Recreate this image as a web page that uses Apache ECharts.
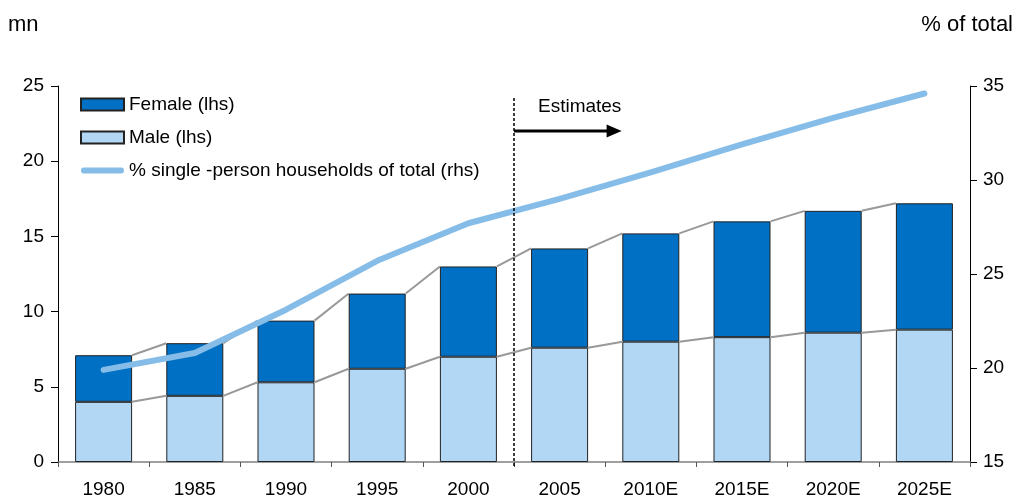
<!DOCTYPE html>
<html>
<head>
<meta charset="utf-8">
<script src="https://cdn.jsdelivr.net/npm/echarts@6/dist/echarts.min.js"></script>
<style>
  html, body { margin: 0; padding: 0; background: #fff; }
  #chart { width: 1018px; height: 499px; }
</style>
</head>
<body>
<div id="chart"></div>
<script>
// Single-person households, millions (lhs) and share of all households (rhs)
const years = ['1980', '1985', '1990', '1995', '2000', '2005', '2010E', '2015E', '2020E', '2025E'];
const male = [4.0, 4.4, 5.3, 6.2, 7.0, 7.6, 8.0, 8.3, 8.6, 8.8];
const female = [3.1, 3.5, 4.1, 5.0, 6.0, 6.6, 7.2, 7.7, 8.1, 8.4];
const sharePct = [19.9, 20.8, 23.1, 25.7, 27.7, 29.0, 30.4, 31.9, 33.3, 34.6];
const leftTicks = [0, 25, 5];
const rightTicks = [15, 35, 5];

const FONT = 'Liberation Sans, Arial, sans-serif';
const BAR_FRAC = 0.625;

const totals = male.map((m, i) => +(m + female[i]).toFixed(2));

// Connector segments between neighbouring bar tops (male top and stack top)
const connectorData = years.slice(0, -1).map((_, i) => [i, male[i], totals[i], male[i + 1], totals[i + 1]]);

const chart = echarts.init(document.getElementById('chart'), null, { renderer: 'canvas' });

const option = {
  animation: false,
  textStyle: { fontFamily: FONT },
  grid: { left: 58, right: 48, top: 86, bottom: 35, containLabel: false },
  legend: {
    orient: 'vertical',
    left: 75,
    top: 90,
    itemWidth: 43,
    itemHeight: 12,
    itemGap: 14,
    textStyle: { fontSize: 19, color: '#000', fontFamily: FONT },
    data: [
      { name: 'Female (lhs)', icon: 'rect' },
      { name: 'Male (lhs)', icon: 'rect' },
      { name: '% single -person households of total (rhs)',
        icon: 'path://M3,0H41A3,3,0,0,1,41,6H3A3,3,0,0,1,3,0Z' }
    ]
  },
  xAxis: {
    type: 'category',
    data: years,
    axisLine: { lineStyle: { color: '#808080', width: 1.5 } },
    axisTick: { show: true, length: 5, lineStyle: { color: '#555' } },
    axisLabel: { color: '#000', fontSize: 19, margin: 18, fontFamily: FONT }
  },
  yAxis: [
    {
      type: 'value',
      min: leftTicks[0], max: leftTicks[1], interval: leftTicks[2],
      name: 'mn',
      nameLocation: 'end',
      nameGap: 0,
      nameTextStyle: { fontSize: 22, color: '#000', align: 'left', padding: [0, 0, 50, -50], fontFamily: FONT },
      axisLine: { show: true, lineStyle: { color: '#000', width: 1 } },
      axisTick: { show: true, inside: false, length: 7, lineStyle: { color: '#000' } },
      axisLabel: { color: '#000', fontSize: 19, margin: 14, fontFamily: FONT },
      splitLine: { show: false }
    },
    {
      type: 'value',
      min: rightTicks[0], max: rightTicks[1], interval: rightTicks[2],
      name: '% of total',
      nameLocation: 'end',
      nameGap: 0,
      nameTextStyle: { fontSize: 22, color: '#000', align: 'right', padding: [0, -43, 50, 0], fontFamily: FONT },
      position: 'right',
      axisLine: { show: true, lineStyle: { color: '#000', width: 1 } },
      axisTick: { show: true, inside: false, length: 7, lineStyle: { color: '#000' } },
      axisLabel: { color: '#000', fontSize: 19, margin: 13, fontFamily: FONT },
      splitLine: { show: false }
    }
  ],
  series: [
    {
      name: 'Male (lhs)',
      type: 'bar',
      stack: 'hh',
      data: male,
      barWidth: (BAR_FRAC * 100) + '%',
      itemStyle: { color: '#B1D7F5', borderColor: '#222', borderWidth: 1 },
      z: 3
    },
    {
      name: 'Female (lhs)',
      type: 'bar',
      stack: 'hh',
      data: female,
      barWidth: (BAR_FRAC * 100) + '%',
      itemStyle: { color: '#0070C4', borderColor: '#222', borderWidth: 1 },
      z: 3
    },
    {
      name: 'connectors',
      type: 'custom',
      data: connectorData,
      silent: true,
      z: 2,
      renderItem: function (params, api) {
        const i = api.value(0);
        const band = api.size([1, 0])[0];
        const half = band * BAR_FRAC / 2;
        const a = api.coord([i, api.value(1)]);
        const b = api.coord([i + 1, api.value(3)]);
        const c = api.coord([i, api.value(2)]);
        const d = api.coord([i + 1, api.value(4)]);
        const style = { stroke: '#999', lineWidth: 2, fill: null };
        return {
          type: 'group',
          children: [
            { type: 'line', shape: { x1: a[0] + half, y1: a[1], x2: b[0] - half, y2: b[1] }, style: style },
            { type: 'line', shape: { x1: c[0] + half, y1: c[1], x2: d[0] - half, y2: d[1] }, style: style }
          ]
        };
      }
    },
    {
      name: '% single -person households of total (rhs)',
      type: 'line',
      yAxisIndex: 1,
      data: sharePct,
      symbol: 'none',
      lineStyle: { color: '#85BDE8', width: 6, cap: 'round', join: 'round' },
      itemStyle: { color: '#85BDE8' },
      z: 5
    }
  ]
};

chart.setOption(option);

// Forecast divider and label, placed on the axis scales
const px2000 = chart.convertToPixel({ xAxisIndex: 0 }, '2000');
const px2005 = chart.convertToPixel({ xAxisIndex: 0 }, '2005');
const band = px2005 - px2000;
const xDiv = (px2000 + px2005) / 2;
const yBase = chart.convertToPixel({ yAxisIndex: 0 }, 0);
const yTop = chart.convertToPixel({ yAxisIndex: 0 }, 24.2);
const yArrow = chart.convertToPixel({ yAxisIndex: 0 }, 22.0);
const yText = chart.convertToPixel({ yAxisIndex: 0 }, 23.6);
const xArrowEnd = xDiv + band * 1.18;

chart.setOption({
  graphic: [
    {
      type: 'line',
      shape: { x1: xDiv, y1: yTop, x2: xDiv, y2: yBase + 4 },
      style: { stroke: '#000', lineWidth: 1.5, lineDash: [3, 2] },
      z: 10
    },
    {
      type: 'line',
      shape: { x1: xDiv, y1: yArrow, x2: xArrowEnd - 12, y2: yArrow },
      style: { stroke: '#000', lineWidth: 3 },
      z: 10
    },
    {
      type: 'polygon',
      shape: { points: [[xArrowEnd - 15, yArrow - 6.5], [xArrowEnd, yArrow], [xArrowEnd - 15, yArrow + 6.5]] },
      style: { fill: '#000' },
      z: 10
    },
    {
      type: 'text',
      x: xDiv + band * 0.72,
      y: yText,
      style: { text: 'Estimates', fill: '#000', font: '19px ' + FONT, textAlign: 'center', textVerticalAlign: 'middle' },
      z: 10
    }
  ]
});
</script>
</body>
</html>
